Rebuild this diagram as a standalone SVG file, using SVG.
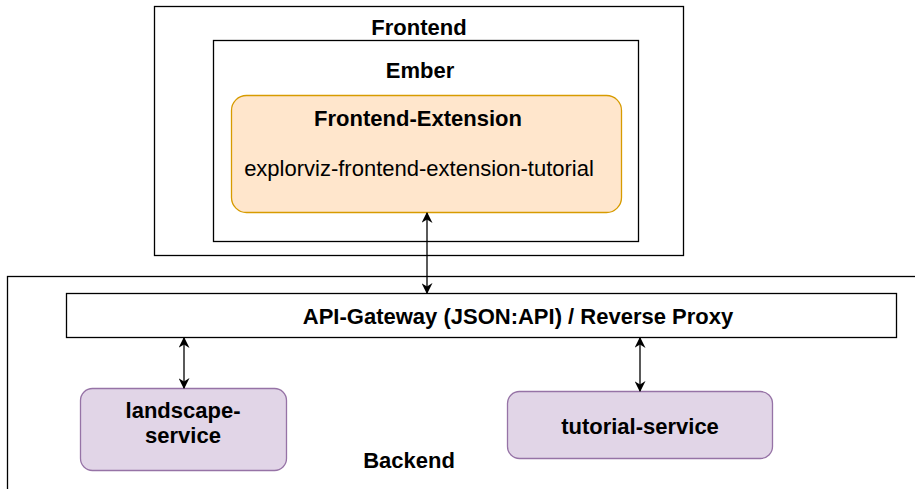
<svg xmlns="http://www.w3.org/2000/svg" width="915" height="489" viewBox="0 0 915 489">
<defs>
<style>
.box{fill:#ffffff;stroke:#000000;stroke-width:1.3}
.t{font-family:"Liberation Sans",Arial,sans-serif;fill:#000;text-anchor:middle;font-size:22px}
.b{font-weight:bold}
.conn{stroke:#000;stroke-width:1.3;fill:none;marker-start:url(#ah);marker-end:url(#ah)}
</style>
<marker id="ah" viewBox="0 0 10 10" refX="9" refY="5" markerWidth="11" markerHeight="11" markerUnits="userSpaceOnUse" orient="auto-start-reverse">
<path d="M0,0 L10,5 L0,10 L3,5 Z" fill="#000"/>
</marker>
</defs>
<g id="backend">
<rect class="box" x="7.5" y="276.5" width="912" height="220"/>
<text class="t b" x="409" y="468">Backend</text>
</g>
<g id="frontend">
<rect class="box" x="154.5" y="6.5" width="529" height="249"/>
<text class="t b" x="419" y="35">Frontend</text>
</g>
<g id="ember">
<rect class="box" x="213.5" y="40.5" width="425" height="201"/>
<text class="t b" x="420" y="78">Ember</text>
</g>
<g id="frontend-extension">
<rect x="231.5" y="95.5" width="390" height="117" rx="15" fill="#ffe6cc" stroke="#d79b00" stroke-width="1.3"/>
<text class="t b" x="418" y="126">Frontend-Extension</text>
<text class="t" x="419" y="176">explorviz-frontend-extension-tutorial</text>
</g>
<g id="api-gateway">
<rect class="box" x="66.5" y="293.5" width="830" height="44"/>
<text class="t b" x="518" y="324">API-Gateway (JSON:API) / Reverse Proxy</text>
</g>
<g id="landscape-service">
<rect x="80.5" y="388.5" width="206" height="82" rx="12" fill="#e1d5e7" stroke="#9673a6" stroke-width="1.3"/>
<text class="t b" x="183" y="418">landscape-</text>
<text class="t b" x="183" y="443">service</text>
</g>
<g id="tutorial-service">
<rect x="507.5" y="391.5" width="265" height="67" rx="12" fill="#e1d5e7" stroke="#9673a6" stroke-width="1.3"/>
<text class="t b" x="640" y="434">tutorial-service</text>
</g>
<g id="connectors">
<line class="conn" x1="427" y1="213" x2="427" y2="293"/>
<line class="conn" x1="184" y1="338" x2="184" y2="388"/>
<line class="conn" x1="640" y1="338" x2="640" y2="391"/>
</g>
</svg>
